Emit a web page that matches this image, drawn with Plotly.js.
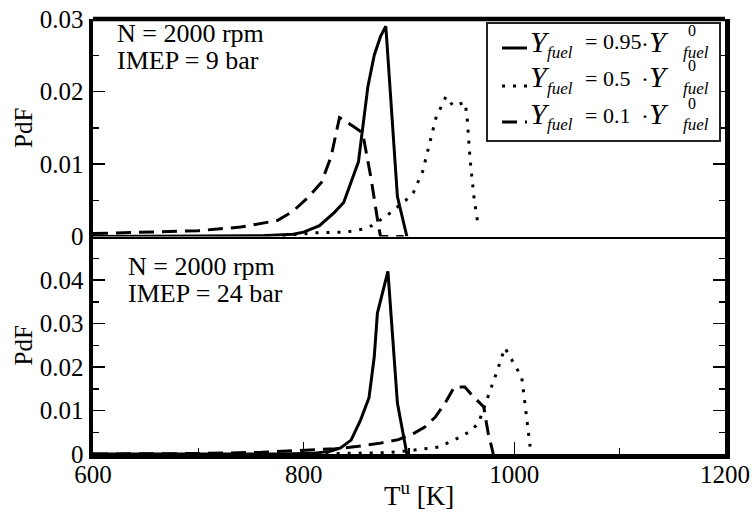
<!DOCTYPE html>
<html>
<head>
<meta charset="utf-8">
<script src="https://cdn.plot.ly/plotly-3.0.1.min.js"></script>
<style>html,body{margin:0;padding:0;background:#fff;}#chart{width:755px;height:514px;}</style>
</head>
<body>
<div id="chart"></div>
<script>
// ---- Data ----
// Top panel: N = 2000 rpm, IMEP = 9 bar
const topSolidT = [600, 700, 760, 790, 800, 815, 829, 838, 843, 852, 861, 867, 873, 878, 889, 898];
const topSolidP = [0, 0, 0.0001, 0.0003, 0.0006, 0.0015, 0.0033, 0.0047, 0.0068, 0.0103, 0.0207, 0.025, 0.0276, 0.029, 0.0055, 0];
const topDotT = [780, 810, 840, 855, 865, 880, 897, 904, 913, 921, 926, 931, 935, 942, 948, 953, 955, 958, 962, 966];
const topDotP = [0.0001, 0.0005, 0.0006, 0.001, 0.0015, 0.003, 0.005, 0.006, 0.009, 0.0135, 0.0166, 0.018, 0.0193, 0.018, 0.0183, 0.0185, 0.0168, 0.0106, 0.005, 0.0012];
const topDashT = [600, 650, 700, 740, 760, 775, 790, 805, 817, 826, 834, 842, 848, 856, 864, 871, 873, 895];
const topDashP = [0.0004, 0.0006, 0.0008, 0.0013, 0.0018, 0.0022, 0.0035, 0.0055, 0.0075, 0.011, 0.0164, 0.0157, 0.0151, 0.0143, 0.008, 0.0015, 0, 0];
// Bottom panel: N = 2000 rpm, IMEP = 24 bar
const botSolidT = [600, 700, 780, 810, 825, 835, 845, 854, 862, 867, 870, 880, 889, 898];
const botSolidP = [0, 0, 0, 0.0002, 0.0006, 0.0014, 0.0032, 0.0078, 0.0129, 0.0223, 0.0324, 0.042, 0.0117, 0];
const botDotT = [800, 840, 860, 880, 905, 928, 947, 958, 966, 975, 983, 991, 997, 1002, 1007, 1010, 1013, 1015];
const botDotP = [0, 0.0001, 0.0002, 0.0003, 0.0009, 0.0016, 0.0037, 0.0052, 0.0071, 0.013, 0.0186, 0.0244, 0.022, 0.02, 0.0177, 0.0117, 0.0055, 0.0017];
const botDashT = [600, 700, 760, 800, 830, 850, 873, 890, 905, 915, 925, 935, 943, 953, 960, 971, 975, 980];
const botDashP = [0, 0.0001, 0.0004, 0.0009, 0.0012, 0.0017, 0.0025, 0.0033, 0.0048, 0.0062, 0.0085, 0.012, 0.0154, 0.0154, 0.0135, 0.0108, 0.005, 0];

const xTickVals = [600, 800, 1000, 1200];
const xMinor = [700, 900, 1100];
const topYTicks = [0, 0.01, 0.02, 0.03];
const botYTicks = [0, 0.01, 0.02, 0.03, 0.04];
const topYMinor = [0.005, 0.015, 0.025];
const botYMinor = [0.005, 0.015, 0.025, 0.035, 0.045];
const legendFactors = ['0.95', '0.5', '0.1'];

// ---- Styling ----
const FONT = '"Liberation Serif", "Times New Roman", Times, serif';
const solid = {color: '#000', width: 3, dash: 'solid'};
const dotted = {color: '#000', width: 3, dash: '3px,8px'};
const dashed = {color: '#000', width: 3, dash: '15px,8px'};

function tr(x, y, line, xa, ya) {
  return {x: x, y: y, type: 'scatter', mode: 'lines', line: line, xaxis: xa, yaxis: ya, showlegend: false, hoverinfo: 'skip'};
}
const data = [
  tr(topSolidT, topSolidP, solid, 'x2', 'y2'),
  tr(topDotT, topDotP, dotted, 'x2', 'y2'),
  tr(topDashT, topDashP, dashed, 'x2', 'y2'),
  tr(botSolidT, botSolidP, solid, 'x', 'y'),
  tr(botDotT, botDotP, dotted, 'x', 'y'),
  tr(botDashT, botDashP, dashed, 'x', 'y')
];

const tickfont = {family: FONT, size: 25, color: '#000'};
function yax(domain, range, ticks, minor) {
  return {
    domain: domain, range: range, tickmode: 'array', tickvals: ticks,
    ticks: 'inside', ticklen: 12, tickwidth: 1.5, tickcolor: '#000',
    minor: {tickmode: 'array', tickvals: minor, ticks: 'inside', ticklen: 6, tickwidth: 1.5, tickcolor: '#000'},
    mirror: 'ticks', showline: true, linewidth: 4.5, linecolor: '#000',
    showgrid: false, zeroline: false, tickfont: tickfont,
    title: {text: 'PdF', font: {family: FONT, size: 25, color: '#000'}, standoff: 1}
  };
}

// paper coords helpers (plot area: px 93..725, py 19..454)
const px = v => (v - 93) / 632;
const py = v => (454 - v) / 435;

function ann(text, x, y, size, anchor) {
  return {xref: 'paper', yref: 'paper', x: px(x), y: py(y), xanchor: anchor || 'left', yanchor: 'middle',
    showarrow: false, text: text, font: {family: FONT, size: size, color: '#000'}};
}
const annotations = [
  ann('N = 2000 rpm', 115, 34, 26),
  ann('IMEP = 9 bar', 115, 60, 26),
  ann('N = 2000 rpm', 126, 266, 26),
  ann('IMEP = 24 bar', 126, 293, 26),
  // x-axis title
  ann('T<sup>u</sup>\u00A0[K]', 382, 494, 27)
];

const legRowY = [42, 78, 115];
const legLineY = [48, 86, 122];
const legLines = [solid, dotted, dashed];
const shapes = [
  // top border of the upper panel
  {type: 'line', xref: 'paper', yref: 'paper', x0: 0, x1: 1, y0: 1, y1: 1, line: {color: '#000', width: 4.5}},
  // legend box
  {type: 'rect', xref: 'paper', yref: 'paper', x0: px(487), x1: px(720), y0: py(141), y1: py(23), line: {color: '#222', width: 2}, fillcolor: '#fff', layer: 'above'}
];
legendFactors.forEach((f, i) => {
  const r = legRowY[i];
  shapes.push({type: 'line', xref: 'paper', yref: 'paper', x0: px(502), x1: px(527), y0: py(legLineY[i]), y1: py(legLineY[i]), line: legLines[i]});
  annotations.push(ann('<i>Y</i>', 528, r - 1, 30));
  annotations.push(ann('<i>fuel</i>', 545, r + 10, 17));
  annotations.push(ann('=\u00A0' + f, 583, r, 22));
  annotations.push(ann('·<span style="font-size:30px"><i>Y</i></span>', 639, r - 1, 24));
  annotations.push(ann('<i>fuel</i>', 681, r + 10, 17));
  annotations.push(ann('0', 692, r - 12, 16, 'center'));
});

const layout = {
  width: 755, height: 514,
  margin: {l: 93, r: 30, t: 19, b: 60, pad: 0},
  paper_bgcolor: '#fff', plot_bgcolor: '#fff',
  showlegend: false,
  font: {family: FONT},
  xaxis: {
    domain: [0, 1], range: [600, 1200], anchor: 'y', tickmode: 'array', tickvals: xTickVals,
    ticks: 'inside', ticklen: 12, tickwidth: 1.5, tickcolor: '#000', ticklabelstandoff: -6,
    minor: {tickmode: 'array', tickvals: xMinor, ticks: 'inside', ticklen: 6, tickwidth: 1.5, tickcolor: '#000'},
    showline: true, linewidth: 4.5, linecolor: '#000', mirror: false,
    showgrid: false, zeroline: false, tickfont: tickfont
  },
  xaxis2: {
    domain: [0, 1], range: [600, 1200], anchor: 'y2', matches: 'x', showticklabels: false, ticks: '',
    showline: true, linewidth: 2.5, linecolor: '#000', showgrid: false, zeroline: false
  },
  yaxis: yax([0, 0.5], [0, 0.05], botYTicks, botYMinor),
  yaxis2: yax([0.5, 1], [0, 0.03], topYTicks, topYMinor),
  annotations: annotations,
  shapes: shapes
};

Plotly.newPlot('chart', data, layout, {staticPlot: true, displayModeBar: false});
</script>
</body>
</html>
